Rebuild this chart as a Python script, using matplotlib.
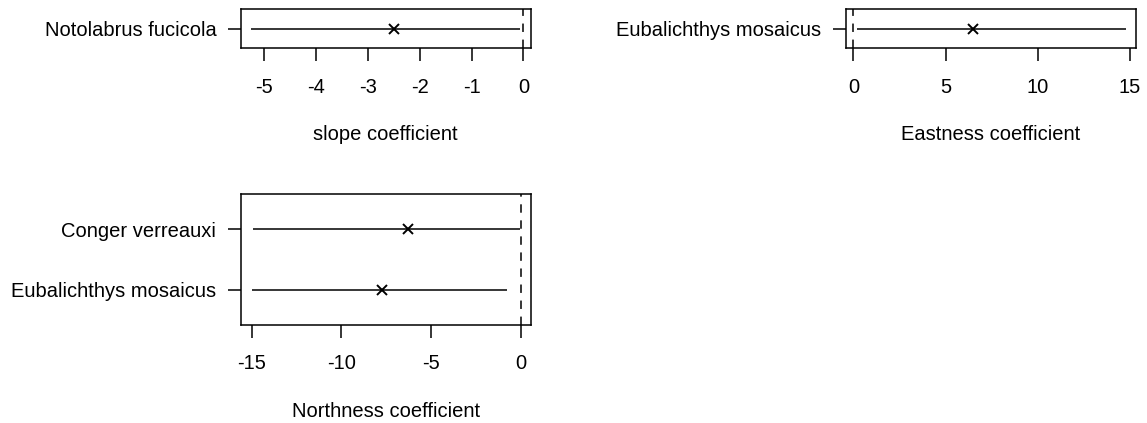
import matplotlib.pyplot as plt

plt.rcParams['font.family'] = ['Liberation Sans', 'DejaVu Sans']
plt.rcParams['axes.unicode_minus'] = False

# coefficient estimates with interval bounds, one row per species
slope_species = ["Notolabrus fucicola"]
slope_est = [-2.50]
slope_lo = [-5.25]
slope_hi = [-0.06]

east_species = ["Eubalichthys mosaicus"]
east_est = [6.51]
east_lo = [0.22]
east_hi = [14.78]

north_species = ["Eubalichthys mosaicus", "Conger verreauxi"]
north_est = [-7.76, -6.30]
north_lo = [-15.00, -14.94]
north_hi = [-0.80, -0.06]

W, H = 1147, 423
FS = 14.5
TICK_LEN = 9.1


def coef_panel(fig, box, species, est, lo, hi, xlim, ylim, xticks, xlabel):
    left, top, right, bottom = box
    ax = fig.add_axes([left / W, 1 - bottom / H, (right - left) / W, (bottom - top) / H])
    rows = list(range(1, len(species) + 1))
    ax.hlines(rows, lo, hi, color="black", linewidth=1.1)
    ax.plot(est, rows, linestyle="none", marker="x", color="black",
            markersize=7, markeredgewidth=1.4)
    ax.axvline(0, color="black", linewidth=1.1, linestyle=(0, (5.5, 5)))
    ax.set_xlim(*xlim)
    ax.set_ylim(*ylim)
    ax.set_xticks(xticks)
    ax.set_xticklabels([str(t) for t in xticks])
    ax.set_yticks(rows)
    ax.set_yticklabels(species)
    ax.tick_params(axis="both", direction="out", length=TICK_LEN, width=1.1,
                   labelsize=FS, colors="black")
    ax.tick_params(axis="x", pad=12)
    ax.tick_params(axis="y", pad=8.5)
    for s in ax.spines.values():
        s.set_linewidth(1.1)
        s.set_color("black")
    ax.set_xlabel(xlabel, fontsize=FS)
    ax.xaxis.set_label_coords(0.5, -86.7 / (bottom - top))
    ax.xaxis.label.set_va("center")
    return ax


fig = plt.figure(figsize=(W / 100, H / 100), dpi=100)

coef_panel(fig, (240.7, 9.3, 530.7, 48.3), slope_species, slope_est, slope_lo, slope_hi,
           (-5.45, 0.14), (0.46, 1.54), [-5, -4, -3, -2, -1, 0], "slope coefficient")
coef_panel(fig, (846, 9.3, 1136, 48.3), east_species, east_est, east_lo, east_hi,
           (-0.40, 15.32), (0.46, 1.54), [0, 5, 10, 15], "Eastness coefficient")
coef_panel(fig, (240.7, 194, 530.7, 325), north_species, north_est, north_lo, north_hi,
           (-15.61, 0.54), (0.42, 2.58), [-15, -10, -5, 0], "Northness coefficient")

fig.savefig("out.png", dpi=100)
plt.close()
